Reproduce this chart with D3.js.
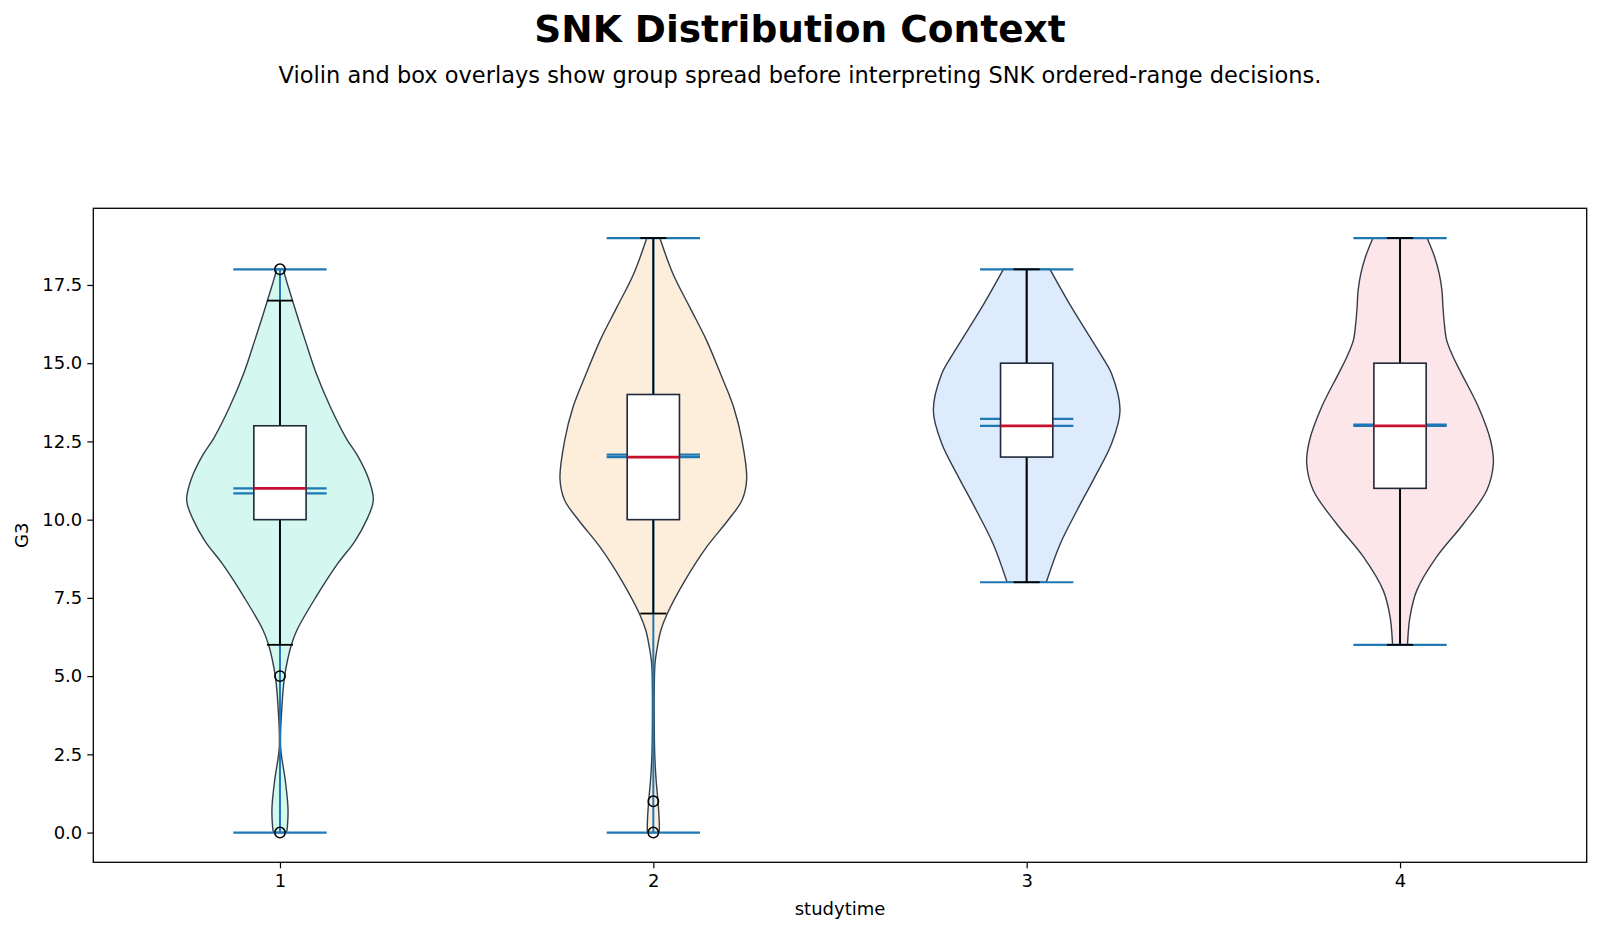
<!DOCTYPE html>
<html>
<head>
<meta charset="utf-8">
<script src="https://cdn.jsdelivr.net/npm/d3@7"></script>
<style>
  body { margin: 0; background: #fff; }
  text { font-family: "DejaVu Sans", sans-serif; fill: #000; }
</style>
</head>
<body>
<svg id="chart" width="1600" height="932"></svg>
<script>
// groups on the x axis (studytime)
const groups = [1, 2, 3, 4];

// box stats
const q1 = [10, 10, 12, 11];
const medians = [11, 12, 13, 13];
const q3 = [13, 14, 15, 15];
const whiskLo = [6, 7, 8, 6];
const whiskHi = [17, 19, 18, 19];
const mins = [0, 0, 8, 6];
const maxs = [18, 19, 18, 19];
const means = [10.84, 12.08, 13.22, 13.04];
const fliers = [[18, 5, 0], [1, 0], [], []];

// violin outlines: [G3 value, relative half width]
const density1 = [[0,0.07],[0.18,0.079],[0.77,0.086],[1.67,0.057],[2.73,0.007],[3.98,0.02],[5.0,0.05],[5.98,0.12],[6.46,0.18],[7.5,0.38],[8.6,0.62],[9.3,0.80],[10.0,0.93],[10.62,1.0],[11.3,0.95],[12.0,0.84],[12.6,0.71],[13.6,0.54],[14.66,0.39],[15.73,0.27],[16.95,0.14],[17.96,0.04],[18,0.04]];
const density2 = [[0,0.064],[0.3,0.064],[1.0,0.05],[1.67,0.03],[2.5,0.015],[3.5,0.01],[4.5,0.01],[5.4,0.018],[5.93,0.043],[6.46,0.08],[7.0,0.15],[8.06,0.34],[9.12,0.57],[9.98,0.80],[10.62,0.95],[11.3,1.0],[12.53,0.95],[13.6,0.86],[14.66,0.72],[15.73,0.57],[16.79,0.39],[17.86,0.21],[19,0.07]];
const density3 = [[8,0.21],[9.23,0.36],[10.3,0.54],[11.36,0.73],[12.43,0.91],[13.49,1.0],[14.66,0.91],[15.2,0.81],[15.73,0.70],[16.79,0.48],[18,0.25]];
const density4 = [[6,0.08],[6.9,0.107],[7.74,0.18],[8.8,0.39],[9.87,0.68],[10.94,0.93],[11.8,1.0],[12.53,0.97],[13.6,0.84],[14.66,0.66],[15.2,0.57],[15.73,0.50],[16.26,0.475],[16.79,0.46],[17.3,0.45],[17.86,0.42],[18.4,0.37],[19,0.29]];
const densities = [density1, density2, density3, density4];

const yTicks = [0, 2.5, 5, 7.5, 10, 12.5, 15, 17.5];

const fills = ["#d4f8f0", "#fdeedc", "#ddebfc", "#fde6e9"];
const blue = "#1f77b4";

const svg = d3.select("#chart");
const margin = {left: 93.3, right: 1600 - 1586.7, top: 208.3, bottom: 932 - 862.3};
const W = 1600 - margin.left - margin.right;
const H = 932 - margin.top - margin.bottom;

// titles
svg.append("text")
   .attr("x", 800).attr("y", 42)
   .attr("text-anchor", "middle")
   .style("font-size", "37.5px").style("font-weight", "bold")
   .text("SNK Distribution Context");

svg.append("text")
   .attr("x", 800).attr("y", 83)
   .attr("text-anchor", "middle")
   .style("font-size", "22.5px")
   .text("Violin and box overlays show group spread before interpreting SNK ordered-range decisions.");

const g = svg.append("g").attr("transform", `translate(${margin.left},${margin.top})`);

const xScale = d3.scaleLinear().domain([0.5, 4.5]).range([0, W]);
const yScale = d3.scaleLinear().domain([-0.95, 19.95]).range([H, 0]);

const violinWidth = 0.5, boxWidth = 0.14;
const half = xScale(violinWidth / 2) - xScale(0);
const lineHalf = xScale(violinWidth / 4) - xScale(0);
const boxHalf = xScale(boxWidth / 2) - xScale(0);
const capHalf = boxHalf / 2;

// violins
groups.forEach((grp, i) => {
  const cx = xScale(grp);
  const area = d3.area()
      .curve(d3.curveCatmullRom.alpha(0.5))
      .y(d => yScale(d[0]))
      .x0(d => cx - d[1] * half)
      .x1(d => cx + d[1] * half);
  g.append("path")
   .attr("d", area(densities[i]))
   .attr("fill", fills[i])
   .attr("stroke", "#1f2937")
   .attr("stroke-opacity", 0.9)
   .attr("stroke-width", 1.4);
});

// violin lines: bars, extrema, means, medians
groups.forEach((grp, i) => {
  const cx = xScale(grp);
  g.append("line")
   .attr("x1", cx).attr("x2", cx)
   .attr("y1", yScale(mins[i])).attr("y2", yScale(maxs[i]))
   .attr("stroke", blue).attr("stroke-width", 2);
  [mins[i], maxs[i], means[i], medians[i]].forEach(v => {
    g.append("line")
     .attr("x1", cx - lineHalf).attr("x2", cx + lineHalf)
     .attr("y1", yScale(v)).attr("y2", yScale(v))
     .attr("stroke", blue).attr("stroke-width", 2.2);
  });
});

// box overlays
groups.forEach((grp, i) => {
  const cx = xScale(grp);
  const box = g.append("g");
  box.append("line")
     .attr("x1", cx).attr("x2", cx)
     .attr("y1", yScale(whiskLo[i])).attr("y2", yScale(q1[i]))
     .attr("stroke", "#000").attr("stroke-width", 1.8);
  box.append("line")
     .attr("x1", cx).attr("x2", cx)
     .attr("y1", yScale(q3[i])).attr("y2", yScale(whiskHi[i]))
     .attr("stroke", "#000").attr("stroke-width", 1.8);
  [whiskLo[i], whiskHi[i]].forEach(v => {
    box.append("line")
       .attr("x1", cx - capHalf).attr("x2", cx + capHalf)
       .attr("y1", yScale(v)).attr("y2", yScale(v))
       .attr("stroke", "#000").attr("stroke-width", 1.8);
  });
  box.append("rect")
     .attr("x", cx - boxHalf).attr("width", 2 * boxHalf)
     .attr("y", yScale(q3[i])).attr("height", yScale(q1[i]) - yScale(q3[i]))
     .attr("fill", "#fff").attr("stroke", "#1f2937").attr("stroke-width", 1.6);
  box.append("line")
     .attr("x1", cx - boxHalf).attr("x2", cx + boxHalf)
     .attr("y1", yScale(medians[i])).attr("y2", yScale(medians[i]))
     .attr("stroke", "#c8102e").attr("stroke-width", 2.8);
  box.selectAll("circle")
     .data(fliers[i])
     .enter()
     .append("circle")
     .attr("cx", cx).attr("cy", d => yScale(d))
     .attr("r", 5.2)
     .attr("fill", "none").attr("stroke", "#000").attr("stroke-width", 1.5);
});

// axes
const xAxis = g.append("g")
   .attr("transform", `translate(0,${H})`)
   .call(d3.axisBottom(xScale).tickValues(groups).tickFormat(d3.format("d")).tickSizeOuter(0).tickSize(6).tickPadding(6));
const yAxis = g.append("g")
   .call(d3.axisLeft(yScale).tickValues(yTicks).tickFormat(d3.format(".1f")).tickSizeOuter(0).tickSize(6).tickPadding(5));
[xAxis, yAxis].forEach(a => {
  a.select(".domain").remove();
  a.selectAll("line").attr("stroke", "#000").attr("stroke-width", 1.2);
  a.selectAll("text").style("font-size", "18px").style("font-family", "DejaVu Sans");
});

g.append("rect")
 .attr("width", W).attr("height", H)
 .attr("fill", "none").attr("stroke", "#000").attr("stroke-width", 1.3);

svg.append("text")
   .attr("x", margin.left + W / 2).attr("y", 915)
   .attr("text-anchor", "middle")
   .style("font-size", "18px")
   .text("studytime");

svg.append("text")
   .attr("transform", `translate(28,${margin.top + H / 2}) rotate(-90)`)
   .attr("text-anchor", "middle")
   .style("font-size", "18px")
   .text("G3");
</script>
</body>
</html>
